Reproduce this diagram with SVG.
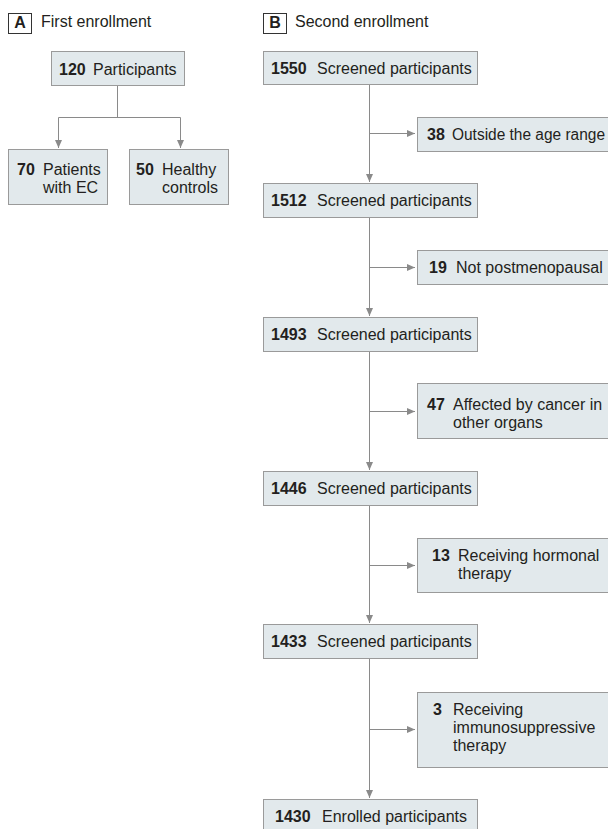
<svg xmlns="http://www.w3.org/2000/svg" width="608" height="829" viewBox="0 0 608 829">
<style>
  text { font-family: "Liberation Sans", Arial, sans-serif; font-size: 16px; fill: #231f20; }
  .b { font-weight: bold; }
  .box { fill: #e2e9ec; stroke: #9a9a9a; stroke-width: 1; }
  .tag { fill: #ffffff; stroke: #333333; stroke-width: 1; }
  .ln { stroke: #8a8a8a; stroke-width: 1; fill: none; }
  .ar { marker-end: url(#arr); }
</style>
<defs>
  <marker id="arr" markerUnits="userSpaceOnUse" markerWidth="8" markerHeight="7" refX="8" refY="3.5" orient="auto">
    <path d="M0,0 L8,3.5 L0,7 z" fill="#8a8a8a"/>
  </marker>
</defs>
<rect width="608" height="829" fill="#ffffff"/>

<g id="headerA">
  <rect class="tag" x="8.5" y="13.5" width="23" height="20"/>
  <text class="b" x="20" y="28" text-anchor="middle" font-size="14">A</text>
  <text x="41" y="27">First enrollment</text>
</g>
<g id="headerB">
  <rect class="tag" x="263.5" y="13.5" width="23" height="20"/>
  <text class="b" x="275" y="28" text-anchor="middle" font-size="14">B</text>
  <text x="295" y="27">Second enrollment</text>
</g>

<g id="connectors">
  <path class="ln" d="M117.5,86 V117.5 M58.5,117.5 H180.5"/>
  <line class="ln ar" x1="58.5" y1="117.5" x2="58.5" y2="148"/>
  <line class="ln ar" x1="180.5" y1="117.5" x2="180.5" y2="148"/>
  <line class="ln ar" x1="369.5" y1="84" x2="369.5" y2="182"/>
  <line class="ln ar" x1="369.5" y1="218" x2="369.5" y2="316"/>
  <line class="ln ar" x1="369.5" y1="351" x2="369.5" y2="470"/>
  <line class="ln ar" x1="369.5" y1="505" x2="369.5" y2="623"/>
  <line class="ln ar" x1="369.5" y1="659" x2="369.5" y2="798"/>
  <line class="ln ar" x1="369.5" y1="133.5" x2="415" y2="133.5"/>
  <line class="ln ar" x1="369.5" y1="267.5" x2="415" y2="267.5"/>
  <line class="ln ar" x1="369.5" y1="411.5" x2="415" y2="411.5"/>
  <line class="ln ar" x1="369.5" y1="565.5" x2="415" y2="565.5"/>
  <line class="ln ar" x1="369.5" y1="729.5" x2="415" y2="729.5"/>
</g>

<g id="n120">
  <rect class="box" x="51.5" y="51.5" width="133" height="34"/>
  <text x="59" y="75"><tspan class="b">120</tspan><tspan x="93">Participants</tspan></text>
</g>
<g id="n70">
  <rect class="box" x="8.5" y="149.5" width="99" height="55"/>
  <text x="17" y="175"><tspan class="b">70</tspan><tspan x="43">Patients</tspan></text>
  <text x="43" y="193">with EC</text>
</g>
<g id="n50">
  <rect class="box" x="129.5" y="149.5" width="99" height="55"/>
  <text x="136" y="175"><tspan class="b">50</tspan><tspan x="162">Healthy</tspan></text>
  <text x="162" y="193">controls</text>
</g>

<g id="n1550">
  <rect class="box" x="263.5" y="51.5" width="214" height="33"/>
  <text x="271" y="74"><tspan class="b">1550</tspan><tspan x="317">Screened participants</tspan></text>
</g>
<g id="x38">
  <rect class="box" x="417.5" y="117.5" width="200" height="34"/>
  <text x="427" y="140"><tspan class="b">38</tspan><tspan x="452" textLength="153" lengthAdjust="spacingAndGlyphs">Outside the age range</tspan></text>
</g>
<g id="n1512">
  <rect class="box" x="263.5" y="183.5" width="214" height="34"/>
  <text x="271" y="206"><tspan class="b">1512</tspan><tspan x="317">Screened participants</tspan></text>
</g>
<g id="x19">
  <rect class="box" x="417.5" y="250.5" width="200" height="34"/>
  <text x="429" y="273"><tspan class="b">19</tspan><tspan x="456">Not postmenopausal</tspan></text>
</g>
<g id="n1493">
  <rect class="box" x="263.5" y="317.5" width="214" height="34"/>
  <text x="271" y="340"><tspan class="b">1493</tspan><tspan x="317">Screened participants</tspan></text>
</g>
<g id="x47">
  <rect class="box" x="417.5" y="383.5" width="200" height="55"/>
  <text x="427" y="410"><tspan class="b">47</tspan><tspan x="453">Affected by cancer in</tspan></text>
  <text x="453" y="428">other organs</text>
</g>
<g id="n1446">
  <rect class="box" x="263.5" y="471.5" width="214" height="34"/>
  <text x="271" y="494"><tspan class="b">1446</tspan><tspan x="317">Screened participants</tspan></text>
</g>
<g id="x13">
  <rect class="box" x="417.5" y="538.5" width="200" height="54"/>
  <text x="432" y="561"><tspan class="b">13</tspan><tspan x="458">Receiving hormonal</tspan></text>
  <text x="458" y="579">therapy</text>
</g>
<g id="n1433">
  <rect class="box" x="263.5" y="624.5" width="214" height="34"/>
  <text x="271" y="647"><tspan class="b">1433</tspan><tspan x="317">Screened participants</tspan></text>
</g>
<g id="x3">
  <rect class="box" x="417.5" y="692.5" width="200" height="75"/>
  <text x="433" y="715"><tspan class="b">3</tspan><tspan x="453">Receiving</tspan></text>
  <text x="453" y="733">immunosuppressive</text>
  <text x="453" y="751">therapy</text>
</g>
<g id="n1430">
  <rect class="box" x="263.5" y="799.5" width="214" height="35"/>
  <text x="275" y="822"><tspan class="b">1430</tspan><tspan x="322">Enrolled participants</tspan></text>
</g>
</svg>
